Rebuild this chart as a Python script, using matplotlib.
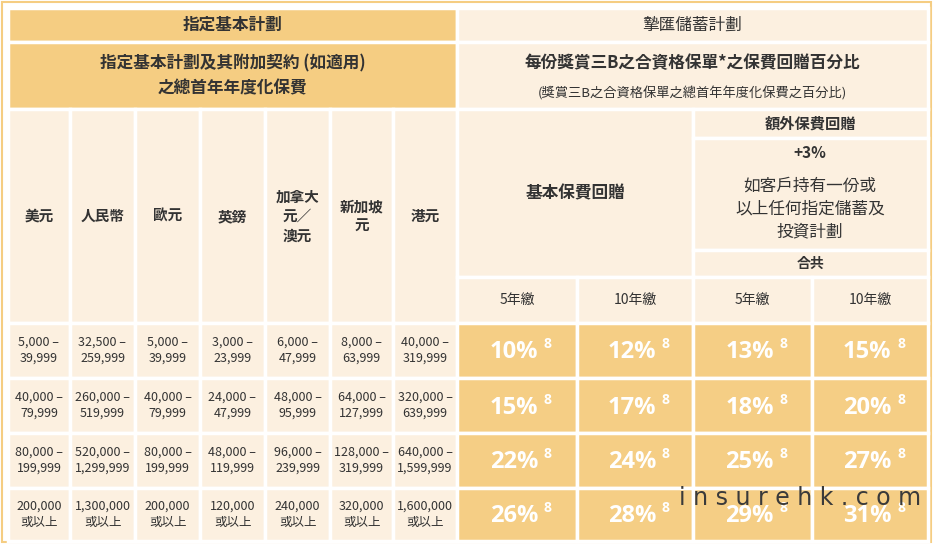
import matplotlib
matplotlib.use("Agg")
import matplotlib.pyplot as plt
from matplotlib.patches import Rectangle

plt.rcParams["font.family"] = ["Noto Sans CJK TC", "Noto Sans CJK JP", "Noto Sans CJK SC", "DejaVu Sans"]

currencies = ["美元", "人民幣", "歐元", "英鎊", "加拿大\n元／\n澳元", "新加坡\n元", "港元"]
ranges = [
    ["5,000 –\n39,999", "32,500 –\n259,999", "5,000 –\n39,999", "3,000 –\n23,999", "6,000 –\n47,999", "8,000 –\n63,999", "40,000 –\n319,999"],
    ["40,000 –\n79,999", "260,000 –\n519,999", "40,000 –\n79,999", "24,000 –\n47,999", "48,000 –\n95,999", "64,000 –\n127,999", "320,000 –\n639,999"],
    ["80,000 –\n199,999", "520,000 –\n1,299,999", "80,000 –\n199,999", "48,000 –\n119,999", "96,000 –\n239,999", "128,000 –\n319,999", "640,000 –\n1,599,999"],
    ["200,000\n或以上", "1,300,000\n或以上", "200,000\n或以上", "120,000\n或以上", "240,000\n或以上", "320,000\n或以上", "1,600,000\n或以上"],
]
base_5 = [10, 15, 22, 26]
base_10 = [12, 17, 24, 28]
total_5 = [13, 18, 25, 29]
total_10 = [15, 20, 27, 31]

DARK = "#F5CD82"
LIGHT = "#FCF0E0"
DATA = "#F5CE85"
TXT = "#333333"

W, H = 935, 545
fig = plt.figure(figsize=(W/100, H/100), dpi=100)
ax = fig.add_axes([0, 0, 1, 1])
ax.set_xlim(0, W); ax.set_ylim(H, 0); ax.axis("off")

def cell(x0, y0, x1, y1, fc, text="", size=11, bold=False, color=TXT, ls=1.25):
    ax.add_patch(Rectangle((x0, y0), x1-x0, y1-y0, facecolor=fc, edgecolor="white", lw=2.5))
    if text:
        ax.text((x0+x1)/2, (y0+y1)/2, text, ha="center", va="center", fontsize=size,
                fontweight="bold" if bold else "normal", color=color, linespacing=ls)

ax.add_patch(Rectangle((2, 2), 929, 540, facecolor="white", edgecolor=DARK, lw=1.5))

cell(8, 8, 457, 42, DARK, "指定基本計劃", 12, True)
cell(457, 8, 928, 42, LIGHT, "摯匯儲蓄計劃", 12)
cell(8, 42, 457, 109, DARK, "指定基本計劃及其附加契約 (如適用)\n之總首年年度化保費", 12, True, ls=1.5)
cell(457, 42, 928, 109, LIGHT)
ax.text(692, 63, "每份獎賞三B之合資格保單*之保費回贈百分比", ha="center", va="center", fontsize=12, fontweight="bold", color=TXT)
ax.text(692, 93, "(獎賞三B之合資格保單之總首年年度化保費之百分比)", ha="center", va="center", fontsize=9.5, color=TXT)

xs = [8, 70, 135, 200, 265, 330, 393, 457]
for i, c in enumerate(currencies):
    cell(xs[i], 109, xs[i+1], 323, LIGHT, c, 10.5, True)
cell(457, 109, 693, 277, LIGHT, "基本保費回贈", 12, True)
cell(693, 109, 928, 138, LIGHT, "額外保費回贈", 11, True)
cell(693, 138, 928, 250, LIGHT)
ax.text(810, 153, "+3%", ha="center", va="center", fontsize=11, fontweight="bold", color=TXT)
ax.text(810, 209, "如客戶持有一份或\n以上任何指定儲蓄及\n投資計劃", ha="center", va="center", fontsize=12, color=TXT, linespacing=1.45)
cell(693, 250, 928, 277, LIGHT, "合共", 10, True)
rx = [457, 577, 693, 812, 928]
for i, lab in enumerate(["5年繳", "10年繳", "5年繳", "10年繳"]):
    cell(rx[i], 277, rx[i+1], 323, LIGHT, lab, 10)

ry = [323, 378, 433, 488, 541]
for r in range(4):
    for i in range(7):
        cell(xs[i], ry[r], xs[i+1], ry[r+1], LIGHT, ranges[r][i], 9, ls=1.3)
    vals = [base_5[r], base_10[r], total_5[r], total_10[r]]
    for i, v in enumerate(vals):
        cell(rx[i], ry[r], rx[i+1], ry[r+1], DATA)
        cx = (rx[i]+rx[i+1])/2 - 3
        cy = (ry[r]+ry[r+1])/2 + 2
        ax.text(cx, cy, f"{v}%", ha="center", va="center",
                fontsize=17, fontweight="bold", color="white", family="Open Sans")
        ax.text(cx + 30, cy - 8, "8", ha="left", va="center",
                fontsize=10, fontweight="bold", color="white", family="Open Sans")

ax.text(800, 498, "i n s u r e h k . c o m", ha="center", va="center", fontsize=17, color="#3a3a3a", family="DejaVu Sans")

fig.savefig("out.png", dpi=100)
